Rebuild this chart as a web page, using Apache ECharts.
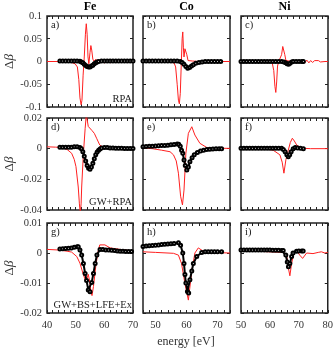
<!DOCTYPE html>
<html>
<head>
<meta charset="utf-8">
<script src="https://cdn.jsdelivr.net/npm/echarts@6/dist/echarts.min.js"></script>
<style>
html,body{margin:0;padding:0;background:#fff;}
#chart{width:336px;height:352px;}
</style>
</head>
<body>
<div id="chart"></div>
<script>
/* 红线 = 计算, 黑圈 = 实验  [energy, delta beta] */
var feRpaCalc = [[40,0],[45,0],[48,-0.001],[49.8,-0.005],[50.6,-0.012],[51.1,-0.04],[51.5,-0.08],[51.9,-0.095],[52.2,-0.085],[52.6,-0.03],[53,0.01],[53.4,0.06],[53.7,0.083],[54,0.06],[54.3,0.01],[54.6,-0.005],[55,0.02],[55.3,0.035],[55.6,0.025],[56,0.005],[56.5,0],[57,0.005],[57.4,0.004],[58,-0.002],[59,0.001],[60,-0.003],[61,0.001],[62,-0.003],[63,0.001],[64,-0.002],[65,0.001],[67,0],[70,0]];
var feRpaExp = [[44.5,0.001],[45.5,0.001],[46.5,0.001],[47.5,0.001],[48.5,0.001],[49.5,0.001],[50.5,0.001],[51.5,0.0005],[52,-0.001],[52.5,-0.003],[53,-0.006],[53.5,-0.009],[54,-0.011],[54.5,-0.012],[55,-0.012],[55.5,-0.01],[56,-0.008],[56.5,-0.005],[57,-0.003],[57.5,-0.001],[58,0],[59,0.001],[60,0.001],[61,0.001],[62,0.001],[63,0.001],[64,0.001],[65,0.001],[66,0.001],[67,0.001],[68,0.001],[69,0.001],[70,0.001]];
var coRpaCalc = [[46,0],[52,0],[55,-0.002],[56,-0.003],[56.5,-0.012],[57,-0.05],[57.4,-0.085],[57.7,-0.093],[58,-0.07],[58.3,-0.01],[58.6,0.05],[58.8,0.065],[59,0.03],[59.2,0.01],[59.5,0.028],[59.8,0.032],[60.1,0.015],[60.5,0.002],[61,0],[62,0.001],[64,0],[74,0]];
var coRpaExp = [[46,0.001],[47,0.001],[48,0.001],[49,0.001],[50,0.001],[51,0.001],[52,0.001],[53,0.001],[54,0.001],[55,0.001],[56,0.001],[57,0.001],[58,0],[58.6,-0.002],[59.2,-0.006],[59.8,-0.011],[60.4,-0.015],[61,-0.013],[61.6,-0.01],[62.2,-0.007],[63,-0.004],[64,-0.002],[65,-0.001],[66,0],[67,0],[68,0],[69,0],[70,0],[71,0]];
var niRpaCalc = [[50,0],[58,0],[60,0],[60.8,-0.004],[61.3,-0.02],[61.7,-0.055],[62,-0.068],[62.3,-0.045],[62.6,-0.01],[63,0],[63.5,0.003],[64,0.015],[64.4,0.033],[64.7,0.034],[65.1,0.015],[65.5,0.002],[66,0],[68,0],[70,0.001],[70.7,-0.002],[71.3,0.002],[72,-0.003],[72.7,0.003],[73.4,-0.003],[74,0.002],[74.7,-0.002],[75.4,0.002],[76,-0.002],[76.7,0.002],[77.4,-0.001],[78,0.001],[79,0],[80,0]];
var niRpaExp = [[50,0],[51,0],[52,0],[53,0],[54,0],[55,0],[56,0],[57,0],[58,0],[59,0],[60,0],[61,0],[62,0],[63,0],[64,0],[64.8,-0.001],[65.4,-0.003],[65.9,-0.005],[66.4,-0.006],[66.9,-0.004],[67.5,-0.001],[68,0],[69,0],[70,0],[71,0],[71.5,0]];

var feGwCalc = [[40,0.0012],[43,0.001],[45,0.0007],[47,-0.0005],[48.6,-0.003],[49.5,-0.007],[50.1,-0.0117],[50.9,-0.025],[51.3,-0.036],[51.6,-0.042],[51.9,-0.036],[52.1,-0.025],[52.7,-0.003],[53.3,0.013],[53.7,0.022],[54,0.019],[54.4,0.0145],[55,0.0133],[55.7,0.0118],[56.5,0.01],[57.3,0.0068],[58.4,0.0024],[60.1,0.0003],[62,0],[70,0]];
var feGwExp = [[44.5,0.001],[45.5,0.001],[46.5,0.001],[47.5,0.001],[48.5,0.001],[49.5,0.0012],[50.5,0.0012],[51.5,0.0008],[52,0],[52.5,-0.002],[53,-0.005],[53.5,-0.008],[54,-0.011],[54.5,-0.0128],[55,-0.0134],[55.5,-0.012],[56,-0.0095],[56.5,-0.0065],[57,-0.004],[57.5,-0.0022],[58,-0.001],[58.5,-0.0002],[59,0.0004],[60,0.0008],[61,0.0007],[62,0.0005],[63,0.0004],[64,0.0003],[65,0.0002],[66,0.0002],[67,0.0001],[68,0.0001],[69,0.0001],[70,0.0001]];
var coGwCalc = [[46,0.0005],[49,0],[52,-0.001],[54.7,-0.002],[55.8,-0.004],[56.7,-0.008],[57.4,-0.016],[58.1,-0.031],[58.7,-0.0367],[59.2,-0.027],[59.8,-0.003],[60.6,0.01],[61.7,0.0143],[62.7,0.0089],[64.3,0.0035],[66.5,0.0008],[68.6,0.0003],[74,0.0002]];
var coGwExp = [[46,0.0013],[47,0.0014],[48,0.0015],[49,0.0016],[50,0.0018],[51,0.0019],[52,0.002],[53,0.0021],[54,0.0023],[55,0.0025],[56,0.0027],[57,0.003],[57.5,0.0028],[58,0.0015],[58.4,-0.001],[58.8,-0.003],[59.2,-0.0074],[59.6,-0.011],[60.1,-0.0139],[60.6,-0.012],[61.1,-0.0085],[61.8,-0.006],[62.5,-0.004],[63.5,-0.0025],[64.5,-0.0015],[65.5,-0.001],[66.5,-0.0006],[67.5,-0.0004],[68.5,-0.0002],[69.5,0],[70.5,0],[71.3,0]];
var niGwCalc = [[50,0],[58,0],[61.1,-0.001],[63.4,-0.004],[64.2,-0.0088],[64.8,-0.016],[65.5,-0.007],[66.3,-0.001],[67,0.004],[67.7,0.0068],[68.4,0.005],[69.2,0.0024],[70.9,0.0003],[74,0],[80,0]];
var niGwExp = [[50,0.0002],[51,0.0002],[52,0.0002],[53,0.0002],[54,0.0002],[55,0.0002],[56,0.0002],[57,0.0002],[58,0.0002],[59,0.0002],[60,0.0002],[61,0.0002],[62,0.0002],[63,0.0002],[64,0.0002],[64.6,-0.0005],[65.2,-0.002],[65.8,-0.004],[66.3,-0.0052],[66.8,-0.004],[67.3,-0.002],[68,0],[68.7,0.0008],[69.5,0.0005],[70.5,0.0002],[71.5,0]];

var feBsCalc = [[40,0.0012],[44,0.001],[47,0.0006],[48.6,0.0003],[50.4,-0.0012],[51.5,-0.0034],[52.7,-0.0073],[53.6,-0.0096],[54.4,-0.0071],[54.8,-0.009],[55.3,-0.0129],[55.7,-0.0142],[56.2,-0.0112],[57,-0.0046],[57.7,0],[58.4,0.0027],[59,0.0032],[60.2,0.0027],[62,0.0017],[65.5,0.0012],[70,0.0007]];
var feBsExp = [[44.5,0.0013],[45.5,0.0014],[46.5,0.0015],[47.5,0.0016],[48.5,0.0017],[49.5,0.0019],[50.5,0.0021],[50.9,0.0021],[51.5,0.001],[52.1,-0.0007],[52.7,-0.0035],[53.3,-0.0068],[53.8,-0.0092],[54.4,-0.0123],[55,-0.0129],[55.6,-0.0098],[56.2,-0.0068],[56.8,-0.0035],[57.4,-0.0007],[58.5,0.0012],[59.5,0.0012],[60.5,0.001],[61.5,0.001],[62.5,0.0009],[63.5,0.0008],[64.5,0.0007],[65.5,0.0006],[66.5,0.0006],[67.5,0.0005],[68.5,0.0005],[69.5,0.0005]];
var coBsCalc = [[46,0.0004],[50,0.0002],[55.8,-0.0001],[57.4,-0.0007],[58.4,-0.0035],[59.5,-0.0102],[60.6,-0.0157],[61.7,-0.006],[62.7,0],[63.8,0.0017],[65.4,0.0006],[68,0.0002],[74,0]];
var coBsExp = [[46,0.0022],[47,0.0023],[48,0.0024],[49,0.0025],[50,0.0026],[51,0.0027],[52,0.0028],[53,0.0029],[54,0.003],[55,0.0031],[56,0.0032],[57.4,0.0034],[58.1,0.0026],[58.8,0],[59.2,-0.0035],[59.5,-0.0072],[59.8,-0.01],[60.3,-0.0128],[60.7,-0.0133],[61.1,-0.0089],[61.7,-0.006],[62.2,-0.0035],[63.3,-0.0012],[64.9,0.0002],[66,0.0004],[67,0.0004],[68,0.0004],[69,0.0004],[70,0.0004],[71.3,0.0004]];
var niBsCalc = [[50,0.0008],[55,0.0006],[60,0.0004],[64.6,0.0002],[65.8,-0.0007],[66.3,-0.0046],[66.9,-0.0076],[67.5,-0.0035],[68.3,0],[69.2,0.0008],[70.3,-0.0007],[71.3,-0.0018],[72.7,0],[74.9,-0.0002],[76.7,0.0002],[77.8,0.0004],[79,0],[80,0.0002]];
var niBsExp = [[50,0.001],[51,0.001],[52,0.001],[53,0.001],[54,0.001],[55,0.001],[56,0.001],[57,0.001],[58,0.001],[59,0.001],[60,0.001],[61,0.0009],[62,0.0009],[63,0.0009],[64,0.0008],[64.6,0.0008],[65.5,-0.0007],[66,-0.003],[66.4,-0.0046],[66.9,-0.0035],[67.5,-0.0012],[68,0],[69.2,0.0006],[70,0.0007],[71,0.0007],[71.5,0.0007]];

var elementNames = ['Fe','Co','Ni'];
var methodNames = ['RPA','GW+RPA','GW+BS+LFE+Ex'];
var panelTags = ['a)','b)','c)','d)','e)','f)','g)','h)','i)'];
var xRanges = [[40,70],[46,74],[50,80]];
var yRanges = [[-0.1,0.1,0.05],[-0.04,0.02,0.02],[-0.02,0.01,0.01]];
var panelData = [
    [feRpaCalc,feRpaExp],[coRpaCalc,coRpaExp],[niRpaCalc,niRpaExp],
    [feGwCalc,feGwExp],[coGwCalc,coGwExp],[niGwCalc,niGwExp],
    [feBsCalc,feBsExp],[coBsCalc,coBsExp],[niBsCalc,niBsExp]
];

/* 版面 */
var colLeft = [47,143,241], colWidth = [86,87,87];
var rowTop = [16,118,223], rowHeight = [91,92,90];
var serif = '"Liberation Serif", "DejaVu Serif", serif';
var labelColor = '#333';

var chart = echarts.init(document.getElementById('chart'));
var grids = [], xAxes = [], yAxes = [], seriesList = [], texts = [];

for(var r = 0; r < 3; r++){
    for(var c = 0; c < 3; c++){
        var idx = r*3 + c;
        grids.push({
            left: colLeft[c], top: rowTop[r], width: colWidth[c], height: rowHeight[r],
            show: true, borderColor: '#222', borderWidth: 1.5, backgroundColor: 'transparent'
        });
        var tick = {show: true, inside: true, length: 3, lineStyle: {color: '#222', width: 1}};
        var noLine = {show: false, onZero: false};
        // 下 x 轴
        xAxes.push({
            type: 'value', gridIndex: idx, position: 'bottom',
            min: xRanges[c][0], max: xRanges[c][1], interval: 2,
            axisLine: noLine, axisTick: tick, splitLine: {show: false},
            axisLabel: {
                show: r === 2, margin: 7, color: labelColor, fontFamily: serif, fontSize: 10.5,
                formatter: function(v){ return v % 10 === 0 ? String(v) : ''; }
            }
        });
        // 上 x 轴 (只画刻度)
        xAxes.push({
            type: 'value', gridIndex: idx, position: 'top',
            min: xRanges[c][0], max: xRanges[c][1], interval: 2,
            axisLine: noLine, axisTick: tick, splitLine: {show: false}, axisLabel: {show: false}
        });
        // 左 y 轴
        var yLeft = {
            type: 'value', gridIndex: idx, position: 'left',
            min: yRanges[r][0], max: yRanges[r][1], interval: yRanges[r][2],
            axisLine: noLine, axisTick: tick, splitLine: {show: false},
            axisLabel: {show: c === 0, margin: 5, color: labelColor, fontFamily: serif, fontSize: 10.5}
        };
        if(c === 0){
            yLeft.name = '{d|Δ}{b|β}';
            yLeft.nameLocation = 'middle';
            yLeft.nameGap = 30;
            yLeft.nameTextStyle = {
                rich: {
                    d: {fontFamily: serif, fontSize: 13, color: labelColor},
                    b: {fontFamily: serif, fontSize: 13, fontStyle: 'italic', color: labelColor}
                }
            };
        }
        yAxes.push(yLeft);
        // 右 y 轴 (只画刻度)
        yAxes.push({
            type: 'value', gridIndex: idx, position: 'right',
            min: yRanges[r][0], max: yRanges[r][1], interval: yRanges[r][2],
            axisLine: noLine, axisTick: tick, splitLine: {show: false}, axisLabel: {show: false}
        });

        seriesList.push({
            type: 'line', xAxisIndex: idx*2, yAxisIndex: idx*2, data: panelData[idx][0],
            showSymbol: false, symbol: 'none', lineStyle: {color: '#ff2020', width: 1}, z: 2, animation: false
        });
        seriesList.push({
            type: 'line', xAxisIndex: idx*2, yAxisIndex: idx*2, data: panelData[idx][1],
            symbol: 'emptyCircle', symbolSize: 3, showAllSymbol: true,
            itemStyle: {color: '#000', borderColor: '#000', borderWidth: 0.9},
            lineStyle: {color: '#000', width: 2}, z: 3, animation: false
        });

        texts.push({
            type: 'text', x: colLeft[c] + 4, y: rowTop[r] + 9,
            style: {text: panelTags[idx], font: '10.5px ' + serif, fill: '#222', textVerticalAlign: 'middle', verticalAlign: 'middle'}
        });
    }
}

for(var k = 0; k < 3; k++){
    texts.push({
        type: 'text', x: colLeft[k] + colWidth[k]/2, y: 7,
        style: {text: elementNames[k], font: 'bold 12px ' + serif, fill: '#000', textAlign: 'center', align: 'center', textVerticalAlign: 'middle', verticalAlign: 'middle'}
    });
    texts.push({
        type: 'text', x: colLeft[0] + colWidth[0] - 1, y: rowTop[k] + rowHeight[k] - 8,
        style: {text: methodNames[k], font: '10.5px ' + serif, fill: '#222', textAlign: 'right', align: 'right', textVerticalAlign: 'middle', verticalAlign: 'middle'}
    });
}
texts.push({
    type: 'text', x: 186, y: 342,
    style: {text: 'energy [eV]', font: '12px ' + serif, fill: labelColor, textAlign: 'center', align: 'center', textVerticalAlign: 'middle', verticalAlign: 'middle'}
});

chart.setOption({
    animation: false,
    backgroundColor: '#fff',
    grid: grids,
    xAxis: xAxes,
    yAxis: yAxes,
    series: seriesList,
    graphic: {elements: texts}
});
</script>
</body>
</html>
